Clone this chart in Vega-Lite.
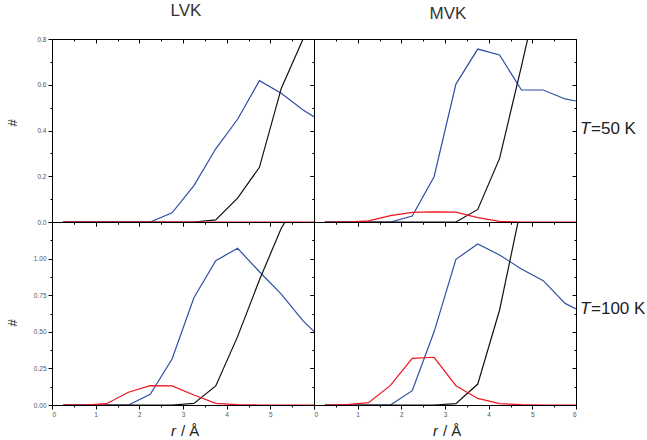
{
"$schema":"https://vega.github.io/schema/vega-lite/v6.json",
"padding":{"left":6,"top":2,"right":0,"bottom":0},
"datasets":{"d":[
{"p":"L5","s":"a","r":0.25,"n":0},{"p":"L5","s":"a","r":0.75,"n":0},{"p":"L5","s":"a","r":1.25,"n":0},{"p":"L5","s":"a","r":1.75,"n":0},{"p":"L5","s":"a","r":2.25,"n":0},{"p":"L5","s":"a","r":2.75,"n":0.04},{"p":"L5","s":"a","r":3.25,"n":0.159},{"p":"L5","s":"a","r":3.75,"n":0.32},{"p":"L5","s":"a","r":4.25,"n":0.449},{"p":"L5","s":"a","r":4.75,"n":0.618},{"p":"L5","s":"a","r":5.25,"n":0.563},{"p":"L5","s":"a","r":5.75,"n":0.49},{"p":"L5","s":"a","r":6.25,"n":0.43},
{"p":"L5","s":"b","r":0.25,"n":0},{"p":"L5","s":"b","r":0.75,"n":0},{"p":"L5","s":"b","r":1.25,"n":0},{"p":"L5","s":"b","r":1.75,"n":0},{"p":"L5","s":"b","r":2.25,"n":0},{"p":"L5","s":"b","r":2.75,"n":0},{"p":"L5","s":"b","r":3.25,"n":0},{"p":"L5","s":"b","r":3.75,"n":0.009},{"p":"L5","s":"b","r":4.25,"n":0.104},{"p":"L5","s":"b","r":4.75,"n":0.239},{"p":"L5","s":"b","r":5.25,"n":0.584},{"p":"L5","s":"b","r":5.75,"n":0.8},{"p":"L5","s":"b","r":6.25,"n":1.0},
{"p":"L5","s":"c","r":0.25,"n":0},{"p":"L5","s":"c","r":0.75,"n":0},{"p":"L5","s":"c","r":1.25,"n":0},{"p":"L5","s":"c","r":1.75,"n":0},{"p":"L5","s":"c","r":2.25,"n":0},{"p":"L5","s":"c","r":2.75,"n":0},{"p":"L5","s":"c","r":3.25,"n":0},{"p":"L5","s":"c","r":3.75,"n":0},{"p":"L5","s":"c","r":4.25,"n":0},{"p":"L5","s":"c","r":4.75,"n":0},{"p":"L5","s":"c","r":5.25,"n":0},{"p":"L5","s":"c","r":5.75,"n":0},{"p":"L5","s":"c","r":6.25,"n":0},
{"p":"M5","s":"a","r":0.25,"n":0},{"p":"M5","s":"a","r":0.75,"n":0},{"p":"M5","s":"a","r":1.25,"n":0},{"p":"M5","s":"a","r":1.75,"n":0},{"p":"M5","s":"a","r":2.25,"n":0.026},{"p":"M5","s":"a","r":2.75,"n":0.198},{"p":"M5","s":"a","r":3.25,"n":0.603},{"p":"M5","s":"a","r":3.75,"n":0.756},{"p":"M5","s":"a","r":4.25,"n":0.73},{"p":"M5","s":"a","r":4.75,"n":0.577},{"p":"M5","s":"a","r":5.25,"n":0.577},{"p":"M5","s":"a","r":5.75,"n":0.538},{"p":"M5","s":"a","r":6.25,"n":0.52},
{"p":"M5","s":"b","r":0.25,"n":0},{"p":"M5","s":"b","r":0.75,"n":0},{"p":"M5","s":"b","r":1.25,"n":0},{"p":"M5","s":"b","r":1.75,"n":0},{"p":"M5","s":"b","r":2.25,"n":0},{"p":"M5","s":"b","r":2.75,"n":0},{"p":"M5","s":"b","r":3.25,"n":0},{"p":"M5","s":"b","r":3.75,"n":0.055},{"p":"M5","s":"b","r":4.25,"n":0.278},{"p":"M5","s":"b","r":4.75,"n":0.68},{"p":"M5","s":"b","r":5.25,"n":1.1},
{"p":"M5","s":"c","r":0.25,"n":0},{"p":"M5","s":"c","r":0.75,"n":0},{"p":"M5","s":"c","r":1.25,"n":0.005},{"p":"M5","s":"c","r":1.75,"n":0.028},{"p":"M5","s":"c","r":2.25,"n":0.042},{"p":"M5","s":"c","r":2.75,"n":0.044},{"p":"M5","s":"c","r":3.25,"n":0.043},{"p":"M5","s":"c","r":3.75,"n":0.019},{"p":"M5","s":"c","r":4.25,"n":0.003},{"p":"M5","s":"c","r":4.75,"n":0},{"p":"M5","s":"c","r":5.25,"n":0},{"p":"M5","s":"c","r":5.75,"n":0},{"p":"M5","s":"c","r":6.25,"n":0},
{"p":"L10","s":"a","r":0.25,"n":0},{"p":"L10","s":"a","r":0.75,"n":0},{"p":"L10","s":"a","r":1.25,"n":0},{"p":"L10","s":"a","r":1.75,"n":0},{"p":"L10","s":"a","r":2.25,"n":0.073},{"p":"L10","s":"a","r":2.75,"n":0.314},{"p":"L10","s":"a","r":3.25,"n":0.733},{"p":"L10","s":"a","r":3.75,"n":0.986},{"p":"L10","s":"a","r":4.25,"n":1.07},{"p":"L10","s":"a","r":4.75,"n":0.91},{"p":"L10","s":"a","r":5.25,"n":0.758},{"p":"L10","s":"a","r":5.75,"n":0.574},{"p":"L10","s":"a","r":6.25,"n":0.43},
{"p":"L10","s":"b","r":0.25,"n":0},{"p":"L10","s":"b","r":0.75,"n":0},{"p":"L10","s":"b","r":1.25,"n":0},{"p":"L10","s":"b","r":1.75,"n":0},{"p":"L10","s":"b","r":2.25,"n":0},{"p":"L10","s":"b","r":2.75,"n":0},{"p":"L10","s":"b","r":3.25,"n":0.011},{"p":"L10","s":"b","r":3.75,"n":0.13},{"p":"L10","s":"b","r":4.25,"n":0.467},{"p":"L10","s":"b","r":4.75,"n":0.854},{"p":"L10","s":"b","r":5.25,"n":1.207},{"p":"L10","s":"b","r":5.75,"n":1.45},
{"p":"L10","s":"c","r":0.25,"n":0},{"p":"L10","s":"c","r":0.75,"n":0},{"p":"L10","s":"c","r":1.25,"n":0.009},{"p":"L10","s":"c","r":1.75,"n":0.087},{"p":"L10","s":"c","r":2.25,"n":0.132},{"p":"L10","s":"c","r":2.75,"n":0.13},{"p":"L10","s":"c","r":3.25,"n":0.068},{"p":"L10","s":"c","r":3.75,"n":0.011},{"p":"L10","s":"c","r":4.25,"n":0.002},{"p":"L10","s":"c","r":4.75,"n":0},{"p":"L10","s":"c","r":5.25,"n":0},{"p":"L10","s":"c","r":5.75,"n":0},{"p":"L10","s":"c","r":6.25,"n":0},
{"p":"M10","s":"a","r":0.25,"n":0},{"p":"M10","s":"a","r":0.75,"n":0},{"p":"M10","s":"a","r":1.25,"n":0},{"p":"M10","s":"a","r":1.75,"n":0},{"p":"M10","s":"a","r":2.25,"n":0.098},{"p":"M10","s":"a","r":2.75,"n":0.5},{"p":"M10","s":"a","r":3.25,"n":0.995},{"p":"M10","s":"a","r":3.75,"n":1.1},{"p":"M10","s":"a","r":4.25,"n":1.025},{"p":"M10","s":"a","r":4.75,"n":0.929},{"p":"M10","s":"a","r":5.25,"n":0.849},{"p":"M10","s":"a","r":5.75,"n":0.694},{"p":"M10","s":"a","r":6.25,"n":0.62},
{"p":"M10","s":"b","r":0.25,"n":0},{"p":"M10","s":"b","r":0.75,"n":0},{"p":"M10","s":"b","r":1.25,"n":0},{"p":"M10","s":"b","r":1.75,"n":0},{"p":"M10","s":"b","r":2.25,"n":0},{"p":"M10","s":"b","r":2.75,"n":0},{"p":"M10","s":"b","r":3.25,"n":0.009},{"p":"M10","s":"b","r":3.75,"n":0.143},{"p":"M10","s":"b","r":4.25,"n":0.649},{"p":"M10","s":"b","r":4.75,"n":1.36},
{"p":"M10","s":"c","r":0.25,"n":0},{"p":"M10","s":"c","r":0.75,"n":0.003},{"p":"M10","s":"c","r":1.25,"n":0.016},{"p":"M10","s":"c","r":1.75,"n":0.134},{"p":"M10","s":"c","r":2.25,"n":0.319},{"p":"M10","s":"c","r":2.75,"n":0.326},{"p":"M10","s":"c","r":3.25,"n":0.132},{"p":"M10","s":"c","r":3.75,"n":0.045},{"p":"M10","s":"c","r":4.25,"n":0.009},{"p":"M10","s":"c","r":4.75,"n":0.002},{"p":"M10","s":"c","r":5.25,"n":0},{"p":"M10","s":"c","r":5.75,"n":0},{"p":"M10","s":"c","r":6.25,"n":0}
]},
"columns":2,
"concat":[
{"width":262,"height":183,"title":{"text":"LVK","offset":16,"dx":3},
 "layer":[
  {"data":{"name":"d"},"transform":[{"filter":"datum.p==='L5'"}],"mark":{"type":"line","strokeWidth":1.2,"clip":true},
   "encoding":{
    "x":{"field":"r","type":"quantitative","scale":{"domain":[0,6],"nice":false,"zero":false},"axis":{"orient":"bottom","values":[0,0.5,1,1.5,2,2.5,3,3.5,4,4.5,5,5.5,6],"labels":false,"title":null,"tickSize":{"condition":{"test":"datum.value % 1 === 0","value":4},"value":2}}},
    "y":{"field":"n","type":"quantitative","scale":{"domain":[0,0.8],"nice":false},"axis":{"orient":"left","values":[0,0.1,0.2,0.3,0.4,0.5,0.6,0.7,0.8],"labelExpr":"round(datum.value*10) % 2 === 0 ? format(datum.value,'.1f') : ''","title":"#","titleX":-40,"titleY":83.5,"titleAngle":-90,"titleAlign":"center","titleBaseline":"middle","tickSize":{"condition":{"test":"round(datum.value*10) % 2 === 0","value":4},"value":2}}},
    "color":{"field":"s","type":"nominal","scale":{"domain":["a","b","c"],"range":["#2e4fa3","#111111","#f0141e"]},"legend":null}}},
  {"data":{"name":"d"},"transform":[{"filter":"datum.p==='L5'"}],"mark":{"type":"line","opacity":0,"clip":true},
   "encoding":{
    "x":{"field":"r","type":"quantitative","scale":{"domain":[0,6],"nice":false,"zero":false},"axis":{"orient":"top","values":[0,0.5,1,1.5,2,2.5,3,3.5,4,4.5,5,5.5,6],"labels":false,"title":null,"tickSize":{"condition":{"test":"datum.value % 1 === 0","value":-4},"value":-2}}},
    "y":{"field":"n","type":"quantitative","scale":{"domain":[0,0.8],"nice":false},"axis":{"orient":"right","values":[0,0.1,0.2,0.3,0.4,0.5,0.6,0.7,0.8],"labels":false,"title":null,"tickSize":{"condition":{"test":"round(datum.value*10) % 2 === 0","value":-4},"value":-2}}}}}
 ],
 "resolve":{"axis":{"x":"independent","y":"independent"}}},
{"width":262,"height":183,"title":{"text":"MVK","offset":16,"dx":3},
 "layer":[
  {"data":{"name":"d"},"transform":[{"filter":"datum.p==='M5'"}],"mark":{"type":"line","strokeWidth":1.2,"clip":true},
   "encoding":{
    "x":{"field":"r","type":"quantitative","scale":{"domain":[0,6],"nice":false,"zero":false},"axis":{"orient":"bottom","values":[0,0.5,1,1.5,2,2.5,3,3.5,4,4.5,5,5.5,6],"labels":false,"title":null,"tickSize":{"condition":{"test":"datum.value % 1 === 0","value":4},"value":2}}},
    "y":{"field":"n","type":"quantitative","scale":{"domain":[0,0.8],"nice":false},"axis":{"orient":"left","values":[0,0.1,0.2,0.3,0.4,0.5,0.6,0.7,0.8],"labels":false,"title":null,"tickSize":{"condition":{"test":"round(datum.value*10) % 2 === 0","value":4},"value":2}}},
    "color":{"field":"s","type":"nominal","scale":{"domain":["a","b","c"],"range":["#2e4fa3","#111111","#f0141e"]},"legend":null}}},
  {"data":{"name":"d"},"transform":[{"filter":"datum.p==='M5'"}],"mark":{"type":"line","opacity":0,"clip":true},
   "encoding":{
    "x":{"field":"r","type":"quantitative","scale":{"domain":[0,6],"nice":false,"zero":false},"axis":{"orient":"top","values":[0,0.5,1,1.5,2,2.5,3,3.5,4,4.5,5,5.5,6],"labels":false,"title":null,"tickSize":{"condition":{"test":"datum.value % 1 === 0","value":-4},"value":-2}}},
    "y":{"field":"n","type":"quantitative","scale":{"domain":[0,0.8],"nice":false},"axis":{"orient":"right","values":[0,0.1,0.2,0.3,0.4,0.5,0.6,0.7,0.8],"labels":false,"title":null,"tickSize":{"condition":{"test":"round(datum.value*10) % 2 === 0","value":-4},"value":-2}}}}},
  {"data":{"values":[{"t":"T"}]},"mark":{"type":"text","fontStyle":"italic","fontSize":17,"align":"left","baseline":"alphabetic","dx":4,"dy":3,"color":"#222"},
   "encoding":{"x":{"datum":6,"type":"quantitative","axis":null},"y":{"datum":0.4,"type":"quantitative","axis":null},"text":{"field":"t"}}},
  {"data":{"values":[{"t":"=50 K"}]},"mark":{"type":"text","fontSize":17,"align":"left","baseline":"alphabetic","dx":15,"dy":3,"color":"#222"},
   "encoding":{"x":{"datum":6,"type":"quantitative","axis":null},"y":{"datum":0.4,"type":"quantitative","axis":null},"text":{"field":"t"}}}
 ],
 "resolve":{"axis":{"x":"independent","y":"independent"}}},
{"width":262,"height":183,
 "layer":[
  {"data":{"name":"d"},"transform":[{"filter":"datum.p==='L10'"}],"mark":{"type":"line","strokeWidth":1.2,"clip":true},
   "encoding":{
    "x":{"field":"r","type":"quantitative","scale":{"domain":[0,6],"nice":false,"zero":false},"axis":{"orient":"bottom","values":[0,0.5,1,1.5,2,2.5,3,3.5,4,4.5,5,5.5,6],"labelExpr":"datum.value % 1 === 0 && datum.value < 5.5 ? format(datum.value,'d') : ''","title":null,"tickSize":{"condition":{"test":"datum.value % 1 === 0","value":4},"value":2}}},
    "y":{"field":"n","type":"quantitative","scale":{"domain":[0,1.25],"nice":false},"axis":{"orient":"left","values":[0,0.125,0.25,0.375,0.5,0.625,0.75,0.875,1,1.125,1.25],"labelExpr":"round(datum.value*8) % 2 === 0 && datum.value < 1.2 ? format(datum.value,'.2f') : ''","title":"#","titleX":-40,"titleY":100.5,"titleAngle":-90,"titleAlign":"center","titleBaseline":"middle","tickSize":{"condition":{"test":"round(datum.value*8) % 2 === 0","value":4},"value":2}}},
    "color":{"field":"s","type":"nominal","scale":{"domain":["a","b","c"],"range":["#2e4fa3","#111111","#f0141e"]},"legend":null}}},
  {"data":{"name":"d"},"transform":[{"filter":"datum.p==='L10'"}],"mark":{"type":"line","opacity":0,"clip":true},
   "encoding":{
    "x":{"field":"r","type":"quantitative","scale":{"domain":[0,6],"nice":false,"zero":false},"axis":{"orient":"top","values":[0,0.5,1,1.5,2,2.5,3,3.5,4,4.5,5,5.5,6],"labels":false,"title":null,"tickSize":{"condition":{"test":"datum.value % 1 === 0","value":-4},"value":-2}}},
    "y":{"field":"n","type":"quantitative","scale":{"domain":[0,1.25],"nice":false},"axis":{"orient":"right","values":[0,0.125,0.25,0.375,0.5,0.625,0.75,0.875,1,1.125,1.25],"labels":false,"title":null,"tickSize":{"condition":{"test":"round(datum.value*8) % 2 === 0","value":-4},"value":-2}}}}},
  {"data":{"values":[{"t":"r"}]},"mark":{"type":"text","fontStyle":"italic","fontSize":15,"align":"right","baseline":"alphabetic","dx":-7,"dy":31,"color":"#222"},
   "encoding":{"x":{"datum":3,"type":"quantitative","axis":null},"y":{"datum":0,"type":"quantitative","axis":null},"text":{"field":"t"}}},
  {"data":{"values":[{"t":"/ Å"}]},"mark":{"type":"text","fontSize":15,"align":"left","baseline":"alphabetic","dx":-2,"dy":31,"color":"#222"},
   "encoding":{"x":{"datum":3,"type":"quantitative","axis":null},"y":{"datum":0,"type":"quantitative","axis":null},"text":{"field":"t"}}}
 ],
 "resolve":{"axis":{"x":"independent","y":"independent"}}},
{"width":262,"height":183,
 "layer":[
  {"data":{"name":"d"},"transform":[{"filter":"datum.p==='M10'"}],"mark":{"type":"line","strokeWidth":1.2,"clip":true},
   "encoding":{
    "x":{"field":"r","type":"quantitative","scale":{"domain":[0,6],"nice":false,"zero":false},"axis":{"orient":"bottom","values":[0,0.5,1,1.5,2,2.5,3,3.5,4,4.5,5,5.5,6],"labelExpr":"datum.value % 1 === 0 ? format(datum.value,'d') : ''","title":null,"tickSize":{"condition":{"test":"datum.value % 1 === 0","value":4},"value":2}}},
    "y":{"field":"n","type":"quantitative","scale":{"domain":[0,1.25],"nice":false},"axis":{"orient":"left","values":[0,0.125,0.25,0.375,0.5,0.625,0.75,0.875,1,1.125,1.25],"labels":false,"title":null,"tickSize":{"condition":{"test":"round(datum.value*8) % 2 === 0","value":4},"value":2}}},
    "color":{"field":"s","type":"nominal","scale":{"domain":["a","b","c"],"range":["#2e4fa3","#111111","#f0141e"]},"legend":null}}},
  {"data":{"name":"d"},"transform":[{"filter":"datum.p==='M10'"}],"mark":{"type":"line","opacity":0,"clip":true},
   "encoding":{
    "x":{"field":"r","type":"quantitative","scale":{"domain":[0,6],"nice":false,"zero":false},"axis":{"orient":"top","values":[0,0.5,1,1.5,2,2.5,3,3.5,4,4.5,5,5.5,6],"labels":false,"title":null,"tickSize":{"condition":{"test":"datum.value % 1 === 0","value":-4},"value":-2}}},
    "y":{"field":"n","type":"quantitative","scale":{"domain":[0,1.25],"nice":false},"axis":{"orient":"right","values":[0,0.125,0.25,0.375,0.5,0.625,0.75,0.875,1,1.125,1.25],"labels":false,"title":null,"tickSize":{"condition":{"test":"round(datum.value*8) % 2 === 0","value":-4},"value":-2}}}}},
  {"data":{"values":[{"t":"T"}]},"mark":{"type":"text","fontStyle":"italic","fontSize":17,"align":"left","baseline":"alphabetic","dx":4,"dy":0,"color":"#222"},
   "encoding":{"x":{"datum":6,"type":"quantitative","axis":null},"y":{"datum":0.625,"type":"quantitative","axis":null},"text":{"field":"t"}}},
  {"data":{"values":[{"t":"=100 K"}]},"mark":{"type":"text","fontSize":17,"align":"left","baseline":"alphabetic","dx":15,"dy":0,"color":"#222"},
   "encoding":{"x":{"datum":6,"type":"quantitative","axis":null},"y":{"datum":0.625,"type":"quantitative","axis":null},"text":{"field":"t"}}},
  {"data":{"values":[{"t":"r"}]},"mark":{"type":"text","fontStyle":"italic","fontSize":15,"align":"right","baseline":"alphabetic","dx":-7,"dy":31,"color":"#222"},
   "encoding":{"x":{"datum":3,"type":"quantitative","axis":null},"y":{"datum":0,"type":"quantitative","axis":null},"text":{"field":"t"}}},
  {"data":{"values":[{"t":"/ Å"}]},"mark":{"type":"text","fontSize":15,"align":"left","baseline":"alphabetic","dx":-2,"dy":31,"color":"#222"},
   "encoding":{"x":{"datum":3,"type":"quantitative","axis":null},"y":{"datum":0,"type":"quantitative","axis":null},"text":{"field":"t"}}}
 ],
 "resolve":{"axis":{"x":"independent","y":"independent"}}}
],
"spacing":0,
"bounds":"flush",
"config":{
 "view":{"stroke":null},
 "font":"Liberation Sans",
 "concat":{"spacing":0},
 "axis":{"domainColor":"#000","domainWidth":1,"tickColor":"#000","tickWidth":1,"labelFontSize":6.5,"labelColor":"#555","labelFont":"Liberation Sans","labelPadding":2,"grid":false,"titleFont":"Liberation Sans","titleFontSize":13,"titleFontWeight":"normal","titleColor":"#333"},
 "title":{"font":"Liberation Sans","fontSize":17,"fontWeight":"normal","color":"#333","anchor":"middle"},
 "text":{"font":"Liberation Sans"}
}
}
